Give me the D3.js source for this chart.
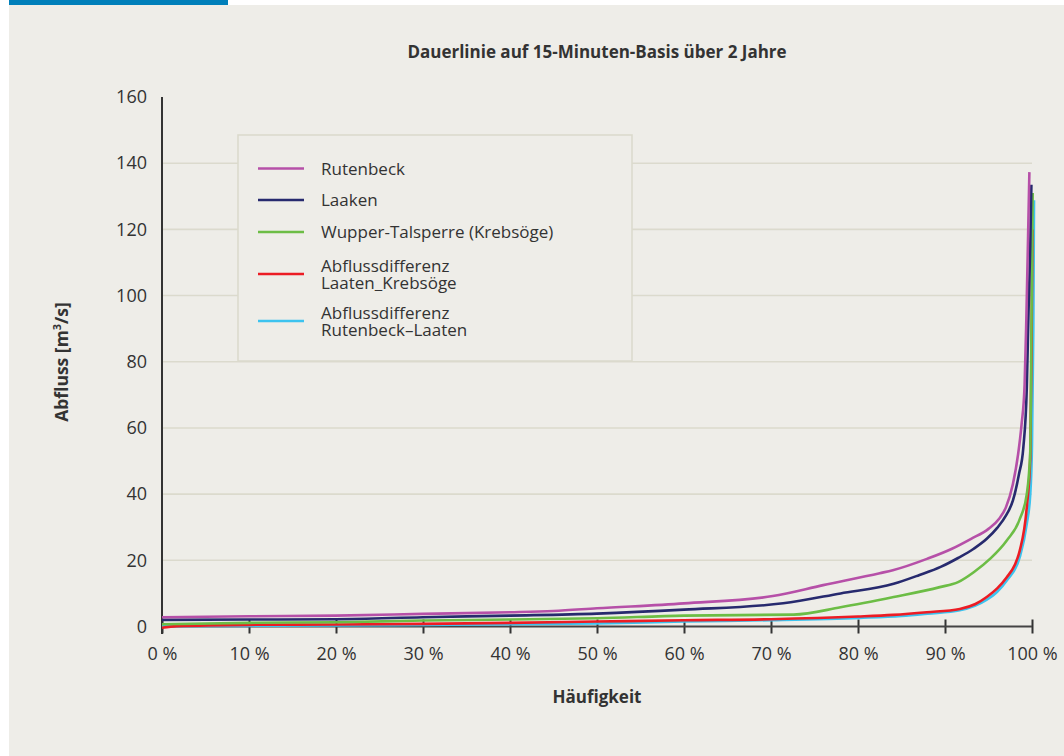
<!DOCTYPE html>
<html>
<head>
<meta charset="utf-8">
<script src="https://cdn.jsdelivr.net/npm/d3@7"></script>
<style>
  html, body { margin: 0; padding: 0; background: #ffffff; }
  svg { display: block; }
  text { font-family: "Open Sans", "Noto Sans", sans-serif; fill: #333333; }
</style>
</head>
<body>
<svg id="chart" width="1064" height="756"></svg>
<script>
// ---------- data ----------
const title = "Dauerlinie auf 15-Minuten-Basis über 2 Jahre";
const xTitle = "Häufigkeit";
const xTicks = [0, 10, 20, 30, 40, 50, 60, 70, 80, 90, 100];
const yTicks = [0, 20, 40, 60, 80, 100, 120, 140, 160];
const gridTicks = [20, 40, 60, 80, 100, 120, 140];

const seriesNames = ["Rutenbeck", "Laaken", "Wupper-Talsperre (Krebsöge)", "Abflussdifferenz\nLaaten_Krebsöge", "Abflussdifferenz\nRutenbeck–Laaten"];
const seriesColors = ["#b650a8", "#272a6e", "#6cbd45", "#ec1c24", "#3cc3ef"];

// Rutenbeck
const rutenbeckP = [0, 10, 20, 30, 40, 45, 50, 60, 70.2, 76, 82.5, 84, 88, 90.8, 93, 95, 96.2, 97, 97.8, 98.4, 98.8, 99.15, 99.35, 99.55, 99.7];
const rutenbeckQ = [2.8, 3.1, 3.3, 3.8, 4.3, 4.7, 5.5, 7.0, 9.2, 12.5, 16.1, 17.0, 20.5, 23.5, 26.5, 29.5, 32.5, 36, 43, 52, 61, 73, 93, 118, 137.3];
// Laaken
const laakenP = [0, 10, 20, 30, 40, 50, 60, 71.4, 78, 84.1, 87, 89.5, 91.5, 93.3, 94.8, 96, 97, 97.8, 98.5, 99.0, 99.4, 99.6, 99.8, 99.93];
const laakenQ = [2.0, 2.1, 2.2, 2.8, 3.3, 3.9, 5.1, 7.0, 10, 12.9, 15.5, 18, 20.7, 23.5, 26.5, 29.8, 33.5, 38, 46, 54, 72, 95, 115, 133.5];
// Wupper-Talsperre (Krebsöge)
const wupperP = [0, 10, 20, 30, 40, 50, 60, 72.6, 78, 84.1, 89.4, 91.5, 93.3, 95.2, 97.1, 98.6, 99.4, 99.8, 99.9, 100.0, 100.08];
const wupperQ = [0.7, 1.1, 1.3, 1.8, 2.1, 2.5, 3.3, 3.6, 5.8, 8.9, 11.9, 13.4, 16.4, 20.5, 26, 32.5, 40, 53, 80, 110, 131];
// Abflussdifferenz Laaten_Krebsöge
const diffLkP = [0, 1.7, 10, 20, 30, 40, 50, 60, 70, 80, 84, 87.9, 91.7, 93.5, 94.8, 96, 97.1, 98, 98.6, 99.4, 99.8, 99.95, 100.05];
const diffLkQ = [-0.4, 0.1, 0.5, 0.6, 0.8, 1.1, 1.5, 1.9, 2.2, 3.0, 3.5, 4.3, 5.3, 6.8, 8.9, 11.5, 14.9, 18.5, 23, 36, 51, 85, 120];
// Abflussdifferenz Rutenbeck–Laaten
const diffRlP = [0, 10, 20, 30, 40, 50, 60, 70, 80.2, 85, 88, 91.7, 94.8, 96, 97.1, 98.6, 99.4, 99.8, 100.0, 100.15, 100.23];
const diffRlQ = [0.1, 0.2, 0.3, 0.5, 0.7, 0.9, 1.5, 1.9, 2.6, 3.2, 3.9, 4.9, 8.1, 10.5, 13.9, 21, 31, 40, 55, 90, 128.8];

const seriesP = [rutenbeckP, laakenP, wupperP, diffLkP, diffRlP];
const seriesQ = [rutenbeckQ, laakenQ, wupperQ, diffLkQ, diffRlQ];

// ---------- layout ----------
const svg = d3.select("#chart");
const W = 1064, H = 756;
const plot = { left: 162, right: 1032, top: 97, bottom: 626.5 };

svg.append("rect").attr("x", 9).attr("y", 5).attr("width", W - 9).attr("height", H - 5).attr("fill", "#eeede8");
svg.append("rect").attr("x", 9).attr("y", 0).attr("width", 219).attr("height", 5).attr("fill", "#007fba");

const x = d3.scaleLinear().domain([0, 100]).range([plot.left, plot.right]);
const y = d3.scaleLinear().domain([0, 160]).range([plot.bottom, plot.top]);

// gridlines
svg.append("g").selectAll("line").data(gridTicks).join("line")
  .attr("x1", plot.left).attr("x2", plot.right)
  .attr("y1", d => y(d)).attr("y2", d => y(d))
  .attr("stroke", "#dbdacd").attr("stroke-width", 1.6);

// title
svg.append("text").attr("x", 597).attr("y", 58).attr("text-anchor", "middle")
  .attr("font-size", 17).attr("font-weight", 700).text(title);

// y axis
const yAxis = d3.axisLeft(y).tickValues(yTicks).tickSize(0).tickPadding(15).tickFormat(d3.format("d"));
const gy = svg.append("g").attr("transform", `translate(${plot.left},0)`).call(yAxis);
gy.select(".domain").remove();
gy.selectAll("text").attr("font-size", 18).attr("fill", "#333").style("font-family", "'Open Sans', sans-serif");
svg.append("line").attr("x1", plot.left).attr("x2", plot.left).attr("y1", plot.top).attr("y2", 634)
  .attr("stroke", "#333").attr("stroke-width", 2);

// y title
const yt = svg.append("text").attr("transform", `translate(68,362) rotate(-90)`).attr("text-anchor", "middle")
  .attr("font-size", 17.5).attr("font-weight", 700);
yt.append("tspan").text("Abfluss [m");
yt.append("tspan").attr("font-size", 11).attr("dy", -7).text("3");
yt.append("tspan").attr("dy", 7).text("/s]");

// x axis
const xAxis = d3.axisBottom(x).tickValues(xTicks).tickSize(7).tickPadding(14).tickFormat(d => d + " %");
const gx = svg.append("g").attr("transform", `translate(0,${plot.bottom})`).call(xAxis);
gx.select(".domain").remove();
gx.selectAll(".tick line").attr("y1", -7).attr("y2", 7).attr("stroke", "#333").attr("stroke-width", 2);
gx.selectAll("text").attr("font-size", 18).attr("fill", "#333").style("font-family", "'Open Sans', sans-serif");
svg.append("line").attr("x1", plot.left).attr("x2", plot.right).attr("y1", plot.bottom).attr("y2", plot.bottom)
  .attr("stroke", "#444").attr("stroke-width", 2);

svg.append("text").attr("x", 597).attr("y", 703).attr("text-anchor", "middle")
  .attr("font-size", 17).attr("font-weight", 700).text(xTitle);

// lines
const line = d3.line().x(d => x(d[0])).y(d => y(d[1])).curve(d3.curveMonotoneX);
const order = [4, 3, 2, 1, 0];
svg.append("g").selectAll("path").data(order).join("path")
  .attr("d", i => line(seriesP[i].map((p, k) => [p, seriesQ[i][k]])))
  .attr("fill", "none").attr("stroke", i => seriesColors[i]).attr("stroke-width", 2.6)
  .attr("stroke-linejoin", "round");

// legend
const lg = svg.append("g");
lg.append("rect").attr("x", 238).attr("y", 135).attr("width", 394).attr("height", 226)
  .attr("fill", "#eeede8").attr("stroke", "#dbdacd").attr("stroke-width", 1.6);
const legendY = [168.5, 200, 232, 274, 321];
seriesNames.forEach((name, i) => {
  lg.append("line").attr("x1", 258).attr("x2", 304).attr("y1", legendY[i]).attr("y2", legendY[i])
    .attr("stroke", seriesColors[i]).attr("stroke-width", 2.6);
  const lines = name.split("\n");
  if (lines.length === 1) {
    lg.append("text").attr("x", 321).attr("y", legendY[i] + 6).attr("font-size", 17).text(lines[0]);
  } else {
    lines.forEach((ln, j) => {
      lg.append("text").attr("x", 321).attr("y", legendY[i] - 2 + j * 16.5)
        .attr("font-size", 17).text(ln);
    });
  }
});
</script>
</body>
</html>
